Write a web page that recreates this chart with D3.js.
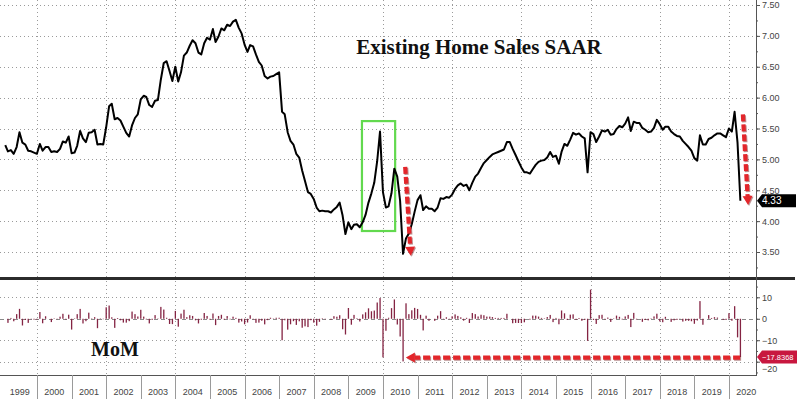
<!DOCTYPE html>
<html>
<head>
<meta charset="utf-8">
<script src="https://cdn.jsdelivr.net/npm/d3@7"></script>
<style>
  body { margin: 0; background: #fff; }
  svg { display: block; }
</style>
</head>
<body>
<div id="chart"></div>
<script>
// existing home sales, SAAR (millions), monthly Jan 1999 .. Apr 2020
const salesSaar = [
  5.23, 5.13, 5.15, 5.09, 5.20, 5.44, 5.27, 5.24, 5.14, 5.13, 5.11, 5.09, // 1999
  5.25, 5.14, 5.20, 5.20, 5.12, 5.13, 5.12, 5.17, 5.29, 5.27, 5.37, 5.10, // 2000
  5.11, 5.22, 5.46, 5.34, 5.28, 5.43, 5.44, 5.48, 5.24, 5.25, 5.24, 5.52, // 2001
  5.86, 5.90, 5.65, 5.67, 5.63, 5.53, 5.43, 5.37, 5.55, 5.67, 5.73, 5.97, // 2002
  6.03, 6.01, 5.88, 5.85, 5.95, 5.96, 6.29, 6.56, 6.59, 6.43, 6.27, 6.50, // 2003
  6.26, 6.41, 6.68, 6.73, 6.84, 6.93, 6.88, 6.73, 6.70, 6.88, 6.97, 6.94, // 2004
  7.11, 6.90, 6.99, 7.12, 7.09, 7.18, 7.16, 7.23, 7.26, 7.13, 7.04, 6.86, // 2005
  6.74, 6.85, 6.83, 6.70, 6.58, 6.52, 6.35, 6.31, 6.34, 6.35, 6.38, 6.41, // 2006
  5.77, 5.73, 5.44, 5.30, 5.24, 5.09, 5.03, 4.82, 4.65, 4.47, 4.44, 4.36, // 2007
  4.22, 4.16, 4.17, 4.16, 4.16, 4.14, 4.19, 4.23, 4.30, 4.09, 3.79, 3.98, // 2008
  3.87, 3.94, 3.95, 3.90, 3.98, 4.10, 4.30, 4.45, 4.62, 4.97, 5.45, 4.47, // 2009
  4.22, 4.24, 4.45, 4.85, 4.72, 4.33, 3.47, 3.72, 3.80, 3.95, 4.15, 4.34, // 2010
  4.42, 4.18, 4.24, 4.20, 4.20, 4.16, 4.22, 4.37, 4.36, 4.39, 4.38, 4.43, // 2011
  4.52, 4.58, 4.61, 4.57, 4.59, 4.50, 4.62, 4.72, 4.77, 4.86, 4.94, 4.99, // 2012
  5.04, 5.08, 5.10, 5.12, 5.14, 5.16, 5.28, 5.28, 5.17, 5.07, 4.97, 4.87, // 2013
  4.79, 4.79, 4.77, 4.84, 4.91, 4.96, 4.98, 4.99, 5.03, 5.12, 5.04, 5.06, // 2014
  4.93, 5.12, 5.25, 5.22, 5.32, 5.43, 5.40, 5.42, 5.37, 5.34, 4.79, 5.44, // 2015
  5.41, 5.28, 5.37, 5.47, 5.45, 5.48, 5.40, 5.41, 5.49, 5.54, 5.52, 5.58, // 2016
  5.68, 5.46, 5.61, 5.59, 5.59, 5.51, 5.48, 5.44, 5.45, 5.51, 5.64, 5.57, // 2017
  5.48, 5.53, 5.53, 5.45, 5.41, 5.38, 5.37, 5.30, 5.25, 5.20, 5.14, 5.02, // 2018
  4.98, 5.39, 5.24, 5.24, 5.33, 5.35, 5.39, 5.42, 5.42, 5.39, 5.36, 5.50, // 2019
  5.45, 5.77, 5.27, 4.33                                                  // 2020
];

const firstYear = 1999;
const lastYear = 2020;
const levelTicks = [3.5, 4.0, 4.5, 5.0, 5.5, 6.0, 6.5, 7.0, 7.5];
const levelMinor = d3.range(3.25, 7.6, 0.25);
const momTicks = [10, 0, -10, -20];
const momMinor = d3.range(-25, 16, 5);
const gridYears = d3.range(2000, 2021, 2);

const titleText = 'Existing Home Sales SAAR';
const momTitle = 'MoM';

// annotations, in data units (fractional year, value)
const boxYears = [2009.39, 2010.35];
const boxLevels = [3.84, 5.62];
const arrowLevelA = [[2010.64, 4.88], [2010.80, 3.44]];
const arrowLevelB = [[2020.40, 5.73], [2020.55, 4.26]];
const arrowMom = [[2020.32, -18.1], [2010.66, -18.1]];

const width = 800, height = 399;
const axisX = 756;
const topPanel = { top: 0, bottom: 277 };
const botPanel = { top: 281, bottom: 375 };

const svg = d3.select('#chart').append('svg')
  .attr('width', width)
  .attr('height', height)
  .style('font-family', '"Liberation Sans", Arial, sans-serif');

// scales
const x = d3.scaleTime()
  .domain([new Date(2000, 0, 1), new Date(2020, 0, 1)])
  .range([37, 729]);
const yTop = d3.scaleLinear().domain([3.5, 7.5]).range([252, 5]);
const yBot = d3.scaleLinear().domain([-20, 10]).range([361.7, 297.3]);

function fy(v) {
  const y0 = Math.floor(v);
  const a = +new Date(y0, 0, 1), b = +new Date(y0 + 1, 0, 1);
  return new Date(a + (v - y0) * (b - a));
}

// month end dates
const months = d3.timeMonth.range(new Date(firstYear, 0, 1), new Date(lastYear, 4, 1));
const series = salesSaar.map((v, i) => ({
  date: d3.timeDay.offset(d3.timeMonth.offset(months[i], 1), -1),
  value: v
}));
const mom = series.slice(1).map((d, i) => ({
  date: d.date,
  value: (d.value / series[i].value - 1) * 100
}));

// grid
const grid = svg.append('g').attr('class', 'grid')
  .attr('stroke', '#9a9a9a').attr('stroke-width', 1).attr('stroke-dasharray', '1,3');

grid.selectAll('.h-top').data(levelTicks).enter().append('line')
  .attr('x1', 0).attr('x2', axisX)
  .attr('y1', d => Math.round(yTop(d)) + 0.5).attr('y2', d => Math.round(yTop(d)) + 0.5);

grid.selectAll('.h-bot').data(momTicks.filter(d => d !== 0)).enter().append('line')
  .attr('x1', 0).attr('x2', axisX)
  .attr('y1', d => Math.round(yBot(d)) + 0.5).attr('y2', d => Math.round(yBot(d)) + 0.5);

grid.selectAll('.v-top').data(gridYears).enter().append('line')
  .attr('x1', d => Math.round(x(new Date(d, 0, 1))) + 0.5)
  .attr('x2', d => Math.round(x(new Date(d, 0, 1))) + 0.5)
  .attr('y1', topPanel.top).attr('y2', topPanel.bottom);

grid.selectAll('.v-bot').data(gridYears).enter().append('line')
  .attr('x1', d => Math.round(x(new Date(d, 0, 1))) + 0.5)
  .attr('x2', d => Math.round(x(new Date(d, 0, 1))) + 0.5)
  .attr('y1', botPanel.top).attr('y2', botPanel.bottom);

// zero line
svg.append('line')
  .attr('x1', 0).attr('x2', axisX)
  .attr('y1', Math.round(yBot(0)) + 0.5).attr('y2', Math.round(yBot(0)) + 0.5)
  .attr('stroke', '#8a8a8a').attr('stroke-dasharray', '4,3');

// green box
svg.append('rect')
  .attr('x', x(fy(boxYears[0])))
  .attr('y', yTop(boxLevels[1]))
  .attr('width', x(fy(boxYears[1])) - x(fy(boxYears[0])))
  .attr('height', yTop(boxLevels[0]) - yTop(boxLevels[1]))
  .attr('fill', 'none')
  .attr('stroke', '#62d94e')
  .attr('stroke-width', 2.2);

// line
const line = d3.line()
  .x(d => x(d.date))
  .y(d => yTop(d.value));

svg.append('path')
  .datum(series)
  .attr('fill', 'none')
  .attr('stroke', '#000')
  .attr('stroke-width', 2)
  .attr('stroke-linejoin', 'round')
  .attr('d', line);

// mom bars
svg.append('g').selectAll('rect').data(mom).enter().append('rect')
  .attr('x', d => x(d.date) - 0.6)
  .attr('width', 1.3)
  .attr('y', d => Math.min(yBot(0), yBot(d.value)))
  .attr('height', d => Math.abs(yBot(d.value) - yBot(0)))
  .attr('fill', '#842443');

// panel separator
svg.append('rect')
  .attr('x', 0).attr('y', 277)
  .attr('width', 795).attr('height', 3)
  .attr('fill', '#2b2b2b');

// right axes
svg.append('line')
  .attr('x1', axisX + 0.5).attr('x2', axisX + 0.5)
  .attr('y1', 0).attr('y2', botPanel.bottom)
  .attr('stroke', '#555');

function styleAxis(g) {
  g.select('.domain').remove();
  g.selectAll('.tick line').attr('stroke', '#555');
  g.selectAll('.tick text')
    .attr('fill', '#444')
    .style('font-size', '9px')
    .style('font-family', '"Liberation Sans", Arial, sans-serif');
}

svg.append('g')
  .attr('transform', `translate(${axisX},0)`)
  .call(d3.axisRight(yTop).tickValues(levelMinor).tickSize(2).tickFormat(''))
  .call(styleAxis);

svg.append('g')
  .attr('transform', `translate(${axisX},0)`)
  .call(d3.axisRight(yTop).tickValues(levelTicks).tickSize(4).tickPadding(2)
    .tickFormat(d3.format('.2f')))
  .call(styleAxis);

svg.append('g')
  .attr('transform', `translate(${axisX},0)`)
  .call(d3.axisRight(yBot).tickValues(momMinor.filter(d => yBot(d) > botPanel.top && yBot(d) < botPanel.bottom))
    .tickSize(2).tickFormat(''))
  .call(styleAxis);

const momAxis = svg.append('g')
  .attr('transform', `translate(${axisX},0)`)
  .call(d3.axisRight(yBot).tickValues(momTicks).tickSize(4).tickPadding(2)
    .tickFormat(d3.format('d')))
  .call(styleAxis);
// the last-value label sits over -20: nudge that text just below it
momAxis.selectAll('.tick').filter(d => d === -20).select('text').attr('dy', '1.05em');

// bottom time axis
svg.append('line')
  .attr('x1', 0).attr('x2', axisX + 1)
  .attr('y1', botPanel.bottom + 0.5).attr('y2', botPanel.bottom + 0.5)
  .attr('stroke', '#555');

const years = d3.range(firstYear, lastYear + 1);
svg.append('g').selectAll('line').data(years.slice(1)).enter().append('line')
  .attr('x1', d => Math.round(x(new Date(d, 0, 1))) + 0.5)
  .attr('x2', d => Math.round(x(new Date(d, 0, 1))) + 0.5)
  .attr('y1', botPanel.bottom).attr('y2', height)
  .attr('stroke', '#9a9a9a');

svg.append('g').selectAll('text').data(years).enter().append('text')
  .attr('x', d => (x(new Date(d, 0, 1)) + Math.min(x(new Date(d + 1, 0, 1)), axisX + 8)) / 2)
  .attr('y', 395)
  .attr('text-anchor', 'middle')
  .attr('fill', '#444')
  .style('font-size', '9px')
  .text(d => d);

// arrows
function arrow(pts, sx, sy) {
  const x1 = sx(pts[0][0]), y1 = sy(pts[0][1]);
  const x2 = sx(pts[1][0]), y2 = sy(pts[1][1]);
  const len = Math.hypot(x2 - x1, y2 - y1);
  const ux = (x2 - x1) / len, uy = (y2 - y1) / len;
  const head = 9, half = 5;
  const bx = x2 - ux * head, by = y2 - uy * head;
  const g = svg.append('g');
  [['#6b0d0d', 1, 0.45], ['#e3262b', 0, 1]].forEach(([c, off, op]) => {
    g.append('line')
      .attr('x1', x1 + off).attr('y1', y1 + off)
      .attr('x2', bx + off).attr('y2', by + off)
      .attr('stroke', c).attr('stroke-width', 4.2)
      .attr('stroke-dasharray', '7,3')
      .attr('opacity', op);
    g.append('path')
      .attr('d', `M${x2 + off},${y2 + off}L${bx - uy * half + off},${by + ux * half + off}L${bx + uy * half + off},${by - ux * half + off}Z`)
      .attr('fill', c)
      .attr('opacity', op);
  });
}
const xf = v => x(fy(v));
arrow(arrowLevelA, xf, yTop);
arrow(arrowLevelB, xf, yTop);
arrow(arrowMom, xf, yBot);

// last value labels
function valueLabel(yPos, fill, txt, w, fs) {
  const h = 13, x0 = axisX + 1;
  svg.append('path')
    .attr('d', `M${x0},${yPos}L${x0 + 5},${yPos - h / 2}L${x0 + w},${yPos - h / 2}L${x0 + w},${yPos + h / 2}L${x0 + 5},${yPos + h / 2}Z`)
    .attr('fill', fill);
  svg.append('text')
    .attr('x', x0 + 5).attr('y', yPos + 3)
    .attr('fill', '#fff')
    .style('font-size', fs + 'px')
    .text(txt);
}
const last = series[series.length - 1];
const lastMom = mom[mom.length - 1];
valueLabel(yTop(last.value), '#000', d3.format('.2f')(last.value), 39, 10);
valueLabel(yBot(lastMom.value), '#c8173f', d3.format('.4f')(lastMom.value), 40, 7.5);

// titles
svg.append('text')
  .attr('x', 479).attr('y', 54)
  .attr('text-anchor', 'middle')
  .style('font-family', '"Liberation Serif", "Times New Roman", serif')
  .style('font-weight', 'bold')
  .style('font-size', '21px')
  .attr('fill', '#111')
  .text(titleText);

svg.append('text')
  .attr('x', 91).attr('y', 356)
  .style('font-family', '"Liberation Serif", "Times New Roman", serif')
  .style('font-weight', 'bold')
  .style('font-size', '20px')
  .attr('fill', '#111')
  .text(momTitle);
</script>
</body>
</html>
